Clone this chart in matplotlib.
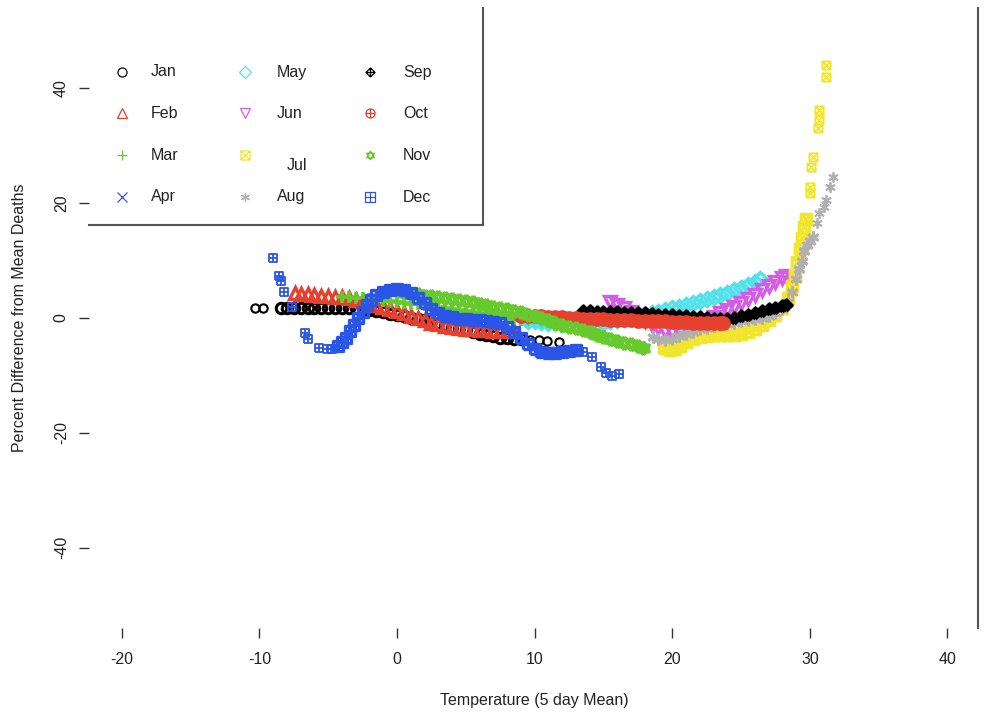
import matplotlib
matplotlib.use("Agg")
import matplotlib.pyplot as plt
from matplotlib.path import Path
import numpy as np

plt.rcParams['font.family'] = ['Liberation Sans', 'DejaVu Sans']

# ---------------- data ----------------
months = ['Jan', 'Feb', 'Mar', 'Apr', 'May', 'Jun', 'Jul', 'Aug', 'Sep', 'Oct', 'Nov', 'Dec']

# dense runs of points (the thick bands)
jan = [(-8.4, 1.7), (-8.0, 1.7), (-7.5, 1.7), (-7.0, 1.7), (-6.5, 1.7),
       (-6.0, 1.7), (-5.5, 1.7), (-5.0, 1.7), (-4.5, 1.7), (-4.0, 1.7), (-3.5, 1.7), (-3.0, 1.7),
       (-2.5, 1.6), (-2.0, 1.4), (-1.5, 1.2), (-1.0, 1.0), (-0.5, 0.7), (0.0, 0.5), (0.5, 0.3),
       (1.0, 0.0), (1.5, -0.2), (2.0, -0.4), (2.5, -0.6), (3.0, -0.9), (3.5, -1.2), (4.0, -1.5),
       (4.5, -1.8), (5.0, -2.1), (5.5, -2.4), (6.0, -2.7), (6.5, -3.0), (7.0, -3.2), (7.5, -3.4),
       (8.0, -3.5), (8.5, -3.6), (9.0, -3.7)]
# isolated points at the ends of some months
jan_sparse = [(-10.3, 1.7), (-9.7, 1.7), (9.7, -3.8), (10.3, -3.9), (10.9, -4.0), (11.8, -4.1)]

feb = [(-7.4, 4.3), (-7.0, 4.2), (-6.5, 4.1), (-6.0, 4.0), (-5.5, 3.9), (-5.0, 3.8), (-4.5, 3.7),
       (-4.0, 3.6), (-3.5, 3.4), (-3.0, 3.2), (-2.5, 2.9), (-2.0, 2.6), (-1.5, 2.2), (-1.0, 1.9),
       (-0.5, 1.5), (0.0, 1.2), (0.5, 0.8), (1.0, 0.4), (1.5, 0.0), (2.0, -0.4), (2.5, -0.8),
       (3.0, -1.1), (3.5, -1.4), (4.0, -1.6), (4.5, -1.8), (5.0, -1.9), (5.5, -2.0), (6.0, -2.1),
       (6.5, -2.1), (7.0, -2.2), (7.5, -2.2), (8.0, -2.3), (8.5, -2.3)]

mar = [(-4.0, 3.7), (-3.5, 3.6), (-3.0, 3.5), (-2.5, 3.4), (-2.0, 3.3), (-1.5, 3.2), (-1.0, 3.0),
       (-0.5, 2.9), (0.0, 2.8), (0.5, 2.7), (1.0, 2.5), (1.5, 2.4), (2.0, 2.2), (2.5, 2.1),
       (3.0, 1.9), (3.5, 1.8), (4.0, 1.6), (4.5, 1.4), (5.0, 1.2), (5.5, 1.0), (6.0, 0.9),
       (6.5, 0.7), (7.0, 0.5), (7.5, 0.3), (8.0, 0.1), (8.5, -0.1), (9.0, -0.3), (9.5, -0.5),
       (10.0, -0.7), (10.5, -0.9), (11.0, -1.1), (11.5, -1.3), (12.0, -1.5)]

apr = []  # no visible points, legend entry only

may = [(9.5, -0.5), (10.0, -0.6), (10.5, -0.7), (11.0, -0.8), (11.5, -0.9), (12.0, -1.0), (12.5, -1.0),
       (13.0, -1.1), (13.5, -1.1), (14.0, -1.1), (14.5, -1.0), (15.0, -0.8), (15.5, -0.6), (16.0, -0.4),
       (16.5, -0.1), (17.0, 0.1), (17.5, 0.4), (18.0, 0.6), (18.5, 0.9), (19.0, 1.1), (19.5, 1.4),
       (20.0, 1.7), (20.5, 2.0), (21.0, 2.3), (21.5, 2.6), (22.0, 2.9), (22.5, 3.3), (23.0, 3.6),
       (23.5, 4.0), (24.0, 4.4), (24.5, 4.8), (25.0, 5.2), (25.5, 5.7), (26.0, 6.2), (26.4, 6.8)]

jun = [(15.5, 2.8), (16.0, 2.3), (16.5, 1.8), (17.0, 1.1), (17.5, 0.3), (18.0, -0.5), (18.5, -1.2),
       (19.0, -1.8), (19.5, -2.3), (20.0, -2.5), (20.5, -2.4), (21.0, -1.9), (21.5, -1.3), (22.0, -0.8),
       (22.5, -0.3), (23.0, 0.2), (23.5, 0.8), (24.0, 1.4), (24.5, 2.0), (25.0, 2.6), (25.5, 3.3),
       (26.0, 4.0), (26.5, 4.8), (27.0, 5.5), (27.5, 6.3), (28.0, 7.0), (28.3, 7.4)]

jul = [(19.4, -5.3), (19.8, -5.6), (20.2, -5.4), (20.6, -4.8), (21.0, -4.2), (21.5, -3.7), (22.0, -3.3),
       (22.5, -3.1), (23.0, -3.0), (23.5, -3.0), (24.0, -3.0), (24.5, -2.9), (25.0, -2.7), (25.5, -2.4),
       (26.0, -1.9), (26.5, -1.2), (27.0, -0.4), (27.5, 0.5), (28.0, 1.8), (28.4, 3.5), (28.7, 5.5),
       (28.9, 7.5), (29.1, 9.8), (29.3, 12.0), (29.45, 14.0), (29.6, 15.8), (29.7, 17.3)]
jul_sparse = [(30.0, 21.8), (30.0, 22.8), (30.1, 26.3), (30.2, 28.0), (30.6, 33.1), (30.7, 34.5),
              (30.7, 36.2), (31.2, 42.0), (31.2, 44.1)]

aug = [(18.6, -3.3), (19.0, -3.6), (19.5, -3.8), (20.0, -3.6), (20.5, -3.2), (21.0, -2.8), (21.5, -2.4),
       (22.0, -2.0), (22.5, -1.7), (23.0, -1.4), (23.5, -1.2), (24.0, -1.0), (24.5, -0.8), (25.0, -0.6),
       (25.5, -0.4), (26.0, -0.2), (26.5, 0.0), (27.0, 0.3), (27.5, 0.8), (28.0, 1.6), (28.4, 2.8),
       (28.7, 4.5), (29.0, 6.8), (29.2, 8.5), (29.4, 10.0), (29.6, 11.6), (29.8, 12.8), (30.0, 13.5),
       (30.2, 14.1)]
aug_sparse = [(30.5, 16.6), (30.7, 18.3), (31.0, 19.3), (31.2, 20.5), (31.5, 22.8), (31.7, 24.6)]

sep = [(13.5, 1.2), (14.0, 1.2), (14.5, 1.1), (15.0, 1.1), (15.5, 1.0), (16.0, 1.0), (16.5, 0.9),
       (17.0, 0.9), (17.5, 0.8), (18.0, 0.8), (18.5, 0.7), (19.0, 0.6), (19.5, 0.6), (20.0, 0.5),
       (20.5, 0.4), (21.0, 0.3), (21.5, 0.2), (22.0, 0.1), (22.5, 0.0), (23.0, -0.1), (23.5, -0.2),
       (24.0, -0.2), (24.5, 0.0), (25.0, 0.3), (25.5, 0.6), (26.0, 0.9), (26.5, 1.2), (27.0, 1.5),
       (27.5, 1.8), (28.0, 2.1), (28.3, 2.3)]

oct_ = [(9.0, 0.4), (9.5, 0.4), (10.0, 0.3), (10.5, 0.3), (11.0, 0.2), (11.5, 0.2), (12.0, 0.1),
        (12.5, 0.0), (13.0, 0.0), (13.5, -0.1), (14.0, -0.1), (14.5, -0.2), (15.0, -0.2), (15.5, -0.3),
        (16.0, -0.3), (16.5, -0.4), (17.0, -0.4), (17.5, -0.5), (18.0, -0.5), (18.5, -0.6), (19.0, -0.6),
        (19.5, -0.6), (20.0, -0.7), (20.5, -0.7), (21.0, -0.7), (21.5, -0.8), (22.0, -0.8), (22.5, -0.8),
        (23.0, -0.9), (23.5, -0.9), (23.7, -0.9)]

nov = [(0.5, 4.3), (1.0, 4.2), (1.5, 4.1), (2.0, 3.9), (2.5, 3.8), (3.0, 3.6), (3.5, 3.5), (4.0, 3.3),
       (4.5, 3.2), (5.0, 3.0), (5.5, 2.8), (6.0, 2.5), (6.5, 2.3), (7.0, 2.0), (7.5, 1.8), (8.0, 1.5),
       (8.5, 1.3), (9.0, 1.0), (9.5, 0.6), (10.0, 0.3), (10.5, 0.0), (11.0, -0.4), (11.5, -0.8),
       (12.0, -1.2), (12.5, -1.5), (13.0, -1.8), (13.5, -2.1), (14.0, -2.5), (14.5, -2.9), (15.0, -3.3),
       (15.5, -3.6), (16.0, -4.0), (16.5, -4.3), (17.0, -4.6), (17.5, -4.9), (17.9, -5.2)]

dec = [(-4.3, -4.8), (-4.0, -4.2), (-3.7, -3.4), (-3.4, -2.3),
       (-3.1, -1.2), (-2.8, 0.0), (-2.5, 1.1), (-2.2, 2.2), (-1.9, 3.1), (-1.5, 4.0), (-1.0, 4.6),
       (-0.5, 4.9), (0.0, 5.0), (0.5, 4.8), (1.0, 4.3), (1.5, 3.5), (2.0, 2.6), (2.5, 1.6), (3.0, 0.9),
       (3.5, 0.4), (4.0, 0.1), (4.5, -0.1), (5.0, -0.2), (5.5, -0.3), (6.0, -0.4), (6.5, -0.5),
       (7.0, -0.7), (7.5, -0.9), (8.0, -1.5), (8.5, -2.4), (9.0, -3.5), (9.5, -4.6), (10.0, -5.4),
       (10.5, -5.9), (11.0, -6.1), (11.5, -6.1), (12.0, -6.0), (12.5, -5.8), (13.0, -5.6)]
dec_sparse = [(-9.0, 10.4), (-8.6, 7.3), (-8.4, 6.4), (-8.2, 4.5), (-7.6, 1.9), (-6.7, -2.6), (-6.5, -3.7),
              (-5.7, -5.2), (-5.1, -5.4), (-4.7, -5.4), (13.5, -5.9),
              (14.2, -6.8), (14.8, -8.5), (15.2, -9.6), (15.6, -10.1), (16.1, -9.8)]

series = [jan, feb, mar, apr, may, jun, jul, aug, sep, oct_, nov, dec]
sparse = {0: jan_sparse, 6: jul_sparse, 7: aug_sparse, 11: dec_sparse}

x_ticks = [-20, -10, 0, 10, 20, 30, 40]
y_ticks = [-40, -20, 0, 20, 40]

# ---------------- styles ----------------
colors = ['#000000', '#E5412E', '#66C92C', '#3B4FD8', '#52E3EA', '#D55CE6',
          '#F2E52E', '#B0B0B0', '#000000', '#E5412E', '#66C92C', '#2B55E6']


def cpath(*parts):
    paths = []
    for p in parts:
        if isinstance(p, Path):
            paths.append(p)
        else:
            paths.append(Path(p, [Path.MOVETO] + [Path.LINETO] * (len(p) - 1)))
    return Path.make_compound_path(*paths)


sq = [(-1, -1), (1, -1), (1, 1), (-1, 1), (-1, -1)]
dia = [(0, -1.3), (1.3, 0), (0, 1.3), (-1.3, 0), (0, -1.3)]
tri_up = [(0, 1.2), (1.04, -0.6), (-1.04, -0.6), (0, 1.2)]
tri_dn = [(0, -1.2), (1.04, 0.6), (-1.04, 0.6), (0, -1.2)]
hplus = [(-1, 0), (1, 0)]
vplus = [(0, -1), (0, 1)]

markers = [
    'o', '^', '+', 'x', 'D', 'v',
    cpath(sq, [(-1, -1), (1, 1)], [(-1, 1), (1, -1)]),
    (6, 2, 0),
    cpath(dia, [(-1.3, 0), (1.3, 0)], [(0, -1.3), (0, 1.3)]),
    cpath(Path.unit_circle(), hplus, vplus),
    cpath(tri_up, tri_dn),
    cpath(sq, hplus, vplus),
]
msizes = [7.5, 8.0, 9.0, 7.5, 7.5, 8.5, 7.5, 8.5, 8.0, 8.0, 9.5, 7.5]
mews = [2.2, 2.4, 2.6, 2.0, 2.4, 2.4, 2.4, 2.0, 2.4, 2.6, 2.6, 2.4]
sparse_ms = {0: 6.0, 6: 6.0, 7: 7.5, 11: 6.0}
sparse_mew = {0: 1.5, 6: 1.3, 7: 1.3, 11: 1.3}

# ---------------- figure ----------------
W, H = 988, 713
fig = plt.figure(figsize=(W / 100, H / 100), dpi=100)
L, R, T, B = 89, 978, 8, 628
ax = fig.add_axes([L / W, (H - B) / H, (R - L) / W, (B - T) / H])
ax.set_xlim(-22.38, 42.22)
ax.set_ylim(-54.0, 54.0)


def draw(pts, i, ms, mew):
    if not pts:
        return
    xs = [p[0] for p in pts]
    ys = [p[1] for p in pts]
    ax.plot(xs, ys, ls='none', marker=markers[i], ms=ms, mfc='none', mec=colors[i], mew=mew)


for i, s in enumerate(series):
    draw(s, i, msizes[i], mews[i])
    if i in sparse:
        draw(sparse[i], i, sparse_ms[i], sparse_mew[i])

for s in ['top', 'left', 'bottom']:
    ax.spines[s].set_visible(False)
ax.spines['right'].set_color('#555555')
ax.spines['right'].set_linewidth(1.5)

ax.set_xticks(x_ticks)
ax.set_xticklabels([str(v) for v in x_ticks])
ax.set_yticks(y_ticks)
ax.set_yticklabels([str(v) for v in y_ticks])
ax.tick_params(axis='both', direction='out', length=7.5, width=1.0, color='#333333',
               labelsize=11.5, labelcolor='#222222')
ax.tick_params(axis='x', pad=10)
ax.tick_params(axis='y', pad=7, labelrotation=90)
for lab in ax.get_yticklabels():
    lab.set_verticalalignment('center')

fig.text(534 / W, 1 - 700 / H, 'Temperature (5 day Mean)', ha='center', va='center',
         fontsize=11.5, color='#222222')
fig.text(20 / W, 1 - 318 / H, 'Percent Difference from Mean Deaths', ha='center', va='center',
         rotation=90, fontsize=11.5, color='#222222')

# ---------------- legend (drawn by hand, R style) ----------------
row_y = [72, 113, 155, 197]
col_mx = [122, 245, 370]
col_tx = [151, 277, 403]
for i, name in enumerate(months):
    c, r = divmod(i, 4)
    mx = col_mx[c] / W
    my = 1 - row_y[r] / H
    fig.lines.append(plt.Line2D([mx], [my], ls='none', marker=markers[i], ms=6.5, mfc='none',
                                mec=colors[i], mew=0.9, transform=fig.transFigure))
    tx, ty = col_tx[c], row_y[r]
    if name == 'Jul':
        tx, ty = 287, 165
    fig.text(tx / W, 1 - ty / H, name, ha='left', va='center', fontsize=11.5, color='#222222')

fig.lines.append(plt.Line2D([483 / W, 483 / W], [1 - 8 / H, 1 - 225 / H], color='#555555',
                            lw=1.5, transform=fig.transFigure))
fig.lines.append(plt.Line2D([89 / W, 483 / W], [1 - 225 / H, 1 - 225 / H], color='#555555',
                            lw=1.5, transform=fig.transFigure))

fig.savefig('out.png', dpi=100, facecolor='white')
